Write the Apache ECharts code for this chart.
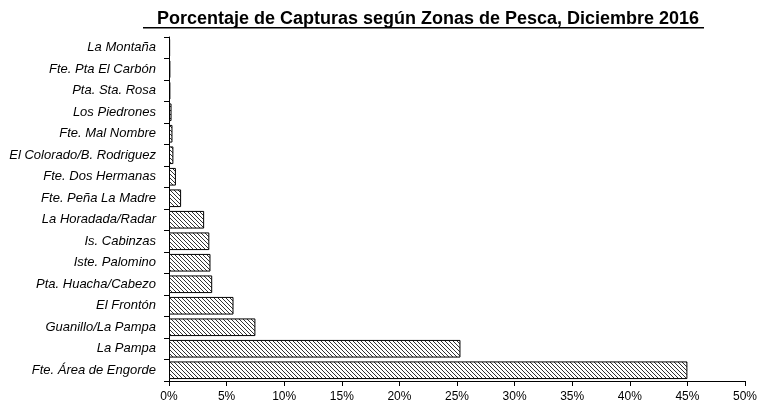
<!DOCTYPE html>
<html><head><meta charset="utf-8">
<script src="https://cdn.jsdelivr.net/npm/echarts@6/dist/echarts.min.js"></script>
<style>html,body{margin:0;padding:0;background:#fff}#c{width:767px;height:412px}</style>
</head><body><div id="c"></div>
<script>
const categories = ["Fte. Área de Engorde","La Pampa","Guanillo/La Pampa","El Frontón","Pta. Huacha/Cabezo","Iste. Palomino","Is. Cabinzas","La Horadada/Radar","Fte. Peña La Madre","Fte. Dos Hermanas","El Colorado/B. Rodriguez","Fte. Mal Nombre","Los Piedrones","Pta. Sta. Rosa","Fte. Pta El Carbón","La Montaña"];
const values = [45.0,25.3,7.5,5.6,3.75,3.6,3.5,3.05,1.05,0.6,0.38,0.3,0.22,0.12,0.12,0.1];
const titleText = "Porcentaje de Capturas según Zonas de Pesca, Diciembre 2016";

const pc = document.createElement('canvas');
pc.width = 4; pc.height = 4;
const g = pc.getContext('2d');
g.fillStyle = '#fff'; g.fillRect(0,0,4,4);
g.strokeStyle = '#333'; g.lineWidth = 1;
g.beginPath();
g.moveTo(0,0); g.lineTo(4,4);
g.moveTo(-2,2); g.lineTo(2,6);
g.moveTo(2,-2); g.lineTo(6,2);
g.stroke();

const chart = echarts.init(document.getElementById('c'));
chart.setOption({
  animation:false,
  backgroundColor:'#fff',
  title:{text:titleText,left:423,top:5,textAlign:'center',
    textStyle:{fontFamily:'Liberation Sans',fontWeight:'bold',fontSize:18,color:'#000'}},
  graphic:[{type:'rect',shape:{x:143,y:27,width:561,height:1.5},style:{fill:'#000'}}],
  grid:{left:169,right:22,top:37,bottom:31},
  xAxis:{type:'value',min:0,max:50,interval:5,
    axisLine:{show:true,lineStyle:{color:'#000'}},
    axisTick:{show:true,length:5,lineStyle:{color:'#000'}},
    splitLine:{show:false},
    axisLabel:{formatter:'{value}%',color:'#000',fontFamily:'Liberation Sans',fontSize:12,margin:10}},
  yAxis:{type:'category',data:categories,
    axisLine:{show:true,lineStyle:{color:'#000'}},
    axisTick:{show:true,length:5,lineStyle:{color:'#000'}},
    axisLabel:{color:'#000',fontFamily:'Liberation Sans',fontStyle:'italic',fontSize:13,margin:13}},
  series:[{type:'bar',data:values,barCategoryGap:'18%',
    itemStyle:{color:{image:pc,repeat:'repeat'},borderColor:'#000',borderWidth:1}}]
});
</script></body></html>
